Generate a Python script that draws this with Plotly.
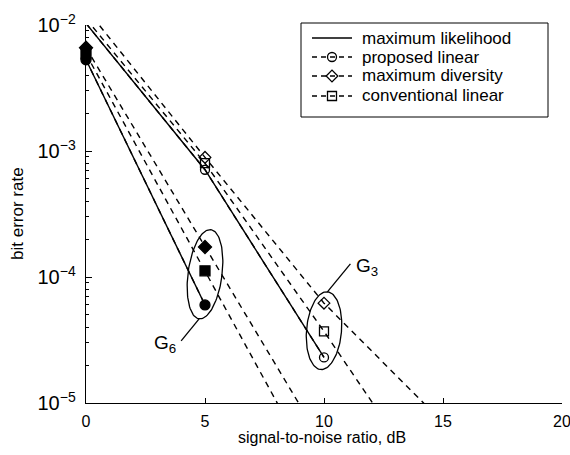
import numpy as np
import plotly.graph_objects as go

# SNR points (dB)
snr_db = [0, 5, 10, 15]

# Rank-3 constellation (open markers)
g3_ml = [1.03e-2, 7.1e-4, 2.3e-5]
g3_proposed = [1.03e-2, 7.1e-4, 2.3e-5]
g3_maxdiv = [1.35e-2, 8.9e-4, 6.2e-5, 7.0e-6]
g3_conv = [1.12e-2, 8.0e-4, 3.7e-5, 1.5e-6]

# Rank-6 constellation (filled markers)
g6_ml = [5.3e-3, 6.0e-5]
g6_proposed = [5.3e-3, 6.0e-5]
g6_maxdiv = [6.6e-3, 1.73e-4, 4.6e-6]
g6_conv = [5.9e-3, 1.12e-4, 2.1e-6]

method_names = ["maximum likelihood", "proposed linear", "maximum diversity", "conventional linear"]
x_ticks = [0, 5, 10, 15, 20]
group_labels = ["G<sub>3</sub>", "G<sub>6</sub>"]

XMIN, XMAX = 0, 20
YMIN, YMAX = 1e-5, 1e-2
W, H = 570, 455
MARGIN = dict(l=86, r=8, t=25, b=52)
PW = W - MARGIN["l"] - MARGIN["r"]
PH = H - MARGIN["t"] - MARGIN["b"]
px_per_db = PW / (XMAX - XMIN)
px_per_dec = PH / (np.log10(YMAX) - np.log10(YMIN))


def paper_x(px):
    return (px - MARGIN["l"]) / PW


def paper_y(py):
    return (H - MARGIN["b"] - py) / PH


FONT = "Liberation Sans, Arial, sans-serif"
DASH = "6px,5px"
LW = 1.4
symbols = {"proposed linear": "circle", "maximum diversity": "diamond", "conventional linear": "square"}

fig = go.Figure()


def in_range(vals):
    return [1.0 if YMIN <= v <= YMAX * 1.0001 else 0.0 for v in vals]


def add_group(series, filled):
    for name, vals in zip(method_names, series):
        xs = snr_db[:len(vals)]
        if name == "maximum likelihood":
            fig.add_trace(go.Scatter(x=xs, y=vals, mode="lines", showlegend=False,
                                     line=dict(color="black", width=LW)))
        else:
            sym = symbols[name] + ("" if filled else "-open")
            fig.add_trace(go.Scatter(
                x=xs, y=vals, mode="lines+markers", showlegend=False, cliponaxis=False,
                line=dict(color="black", width=LW, dash=DASH),
                marker=dict(symbol=sym, size=10 if filled else 9, color="black",
                            opacity=in_range(vals), line=dict(color="black", width=1.3))))


add_group([g3_ml, g3_proposed, g3_maxdiv, g3_conv], filled=False)
add_group([g6_ml, g6_proposed, g6_maxdiv, g6_conv], filled=True)


def ellipse(xc, lc, a_px, b_px, tilt_deg, n=120):
    t = np.linspace(0, 2 * np.pi, n)
    th = np.radians(tilt_deg)
    dx0, dy0 = b_px * np.cos(t), a_px * np.sin(t)
    dx = dx0 * np.cos(th) + dy0 * np.sin(th)
    dy = -dx0 * np.sin(th) + dy0 * np.cos(th)
    return xc + dx / px_per_db, 10 ** (lc + dy / px_per_dec)


def group_center(series, idx):
    logs = [np.log10(s[idx]) for s in series[1:]]
    return snr_db[idx], float(np.mean(logs))


# ellipses around the groups, with pointer lines to labels
groups = [
    dict(series=[g3_ml, g3_proposed, g3_maxdiv, g3_conv], idx=2, a=39, b=17.5, tilt=5,
         end="top", off=(23, 28), label=group_labels[0], anchor="left"),
    dict(series=[g6_ml, g6_proposed, g6_maxdiv, g6_conv], idx=1, a=45, b=17, tilt=7.5,
         end="bottom", off=(-18, -22), label=group_labels[1], anchor="right"),
]
for g in groups:
    xc, lc = group_center(g["series"], g["idx"])
    ex, ey = ellipse(xc, lc, g["a"], g["b"], g["tilt"])
    fig.add_trace(go.Scatter(x=ex, y=ey, mode="lines", showlegend=False, hoverinfo="skip",
                             line=dict(color="black", width=1.3)))
    th = np.radians(g["tilt"])
    sgn = 1 if g["end"] == "top" else -1
    sx = xc + sgn * g["a"] * np.sin(th) / px_per_db
    sl = lc + sgn * g["a"] * np.cos(th) / px_per_dec
    exx = sx + g["off"][0] / px_per_db
    exl = sl + g["off"][1] / px_per_dec
    fig.add_trace(go.Scatter(x=[sx, exx], y=[10 ** sl, 10 ** exl], mode="lines", showlegend=False,
                             hoverinfo="skip", line=dict(color="black", width=1.3)))
    fig.add_annotation(x=exx, y=exl, xref="x", yref="y", text=g["label"], showarrow=False,
                       xanchor=g["anchor"], yanchor="middle", xshift=4 if g["anchor"] == "left" else -3,
                       yshift=-3, font=dict(family=FONT, size=19, color="black"))

# legend box with sample lines/markers drawn on an overlay axis in plot-fraction units
leg_rows = [38, 57, 76, 96]
leg_box = dict(x0=paper_x(301), x1=paper_x(548), y0=paper_y(117), y1=paper_y(23))
fig.add_shape(type="rect", xref="paper", yref="paper", layer="below",
              fillcolor="white", line=dict(color="black", width=1), **leg_box)
for name, row in zip(method_names, leg_rows):
    yy = paper_y(row)
    xs = [paper_x(312), paper_x(332), paper_x(352)]
    if name == "maximum likelihood":
        fig.add_trace(go.Scatter(x=xs, y=[yy] * 3, mode="lines", xaxis="x2", yaxis="y2",
                                 showlegend=False, hoverinfo="skip",
                                 line=dict(color="black", width=LW)))
    else:
        fig.add_trace(go.Scatter(x=xs, y=[yy] * 3, mode="lines+markers", xaxis="x2", yaxis="y2",
                                 showlegend=False, hoverinfo="skip", cliponaxis=False,
                                 line=dict(color="black", width=LW, dash="5px,4px"),
                                 marker=dict(symbol=symbols[name] + "-open", size=9, color="black",
                                             opacity=[0, 1, 0], line=dict(color="black", width=1.3))))
    fig.add_annotation(x=paper_x(360), y=yy, xref="paper", yref="paper", text=name,
                       showarrow=False, xanchor="left", yanchor="middle",
                       font=dict(family=FONT, size=17, color="black"))

# axis titles
fig.add_annotation(x=paper_x(322), y=paper_y(437), xref="paper", yref="paper",
                   text="signal-to-noise ratio, dB", showarrow=False, xanchor="center", yanchor="middle",
                   font=dict(family=FONT, size=16, color="black"))
fig.add_annotation(x=paper_x(17), y=0.5, xref="paper", yref="paper",
                   text="bit error rate", showarrow=False, textangle=-90, xanchor="center",
                   yanchor="middle", font=dict(family=FONT, size=17, color="black"))

fig.update_layout(
    width=W, height=H, margin=MARGIN,
    paper_bgcolor="white", plot_bgcolor="white",
    font=dict(family=FONT, size=16, color="black"),
    showlegend=False,
    xaxis=dict(range=[XMIN, XMAX], tickvals=x_ticks, ticks="inside", ticklen=5,
               showline=True, linecolor="black", linewidth=1.2, tickcolor="black",
               showgrid=False, zeroline=False, tickfont=dict(size=16), ticklabelstandoff=4,
               ticklabeloverflow="allow", automargin=False),
    yaxis=dict(type="log", range=[np.log10(YMIN), np.log10(YMAX)], dtick=1,
               exponentformat="power", showexponent="all", ticks="inside", ticklen=6,
               showline=True, linecolor="black", linewidth=1.2, tickcolor="black",
               showgrid=False, zeroline=False, tickfont=dict(size=16), ticklabelstandoff=6,
               automargin=False,
               minor=dict(ticks="inside", ticklen=3, dtick="D1", tickcolor="black", showgrid=False)),
    xaxis2=dict(overlaying="x", range=[0, 1], visible=False),
    yaxis2=dict(overlaying="y", range=[0, 1], visible=False),
)

fig.write_html("out.html")
